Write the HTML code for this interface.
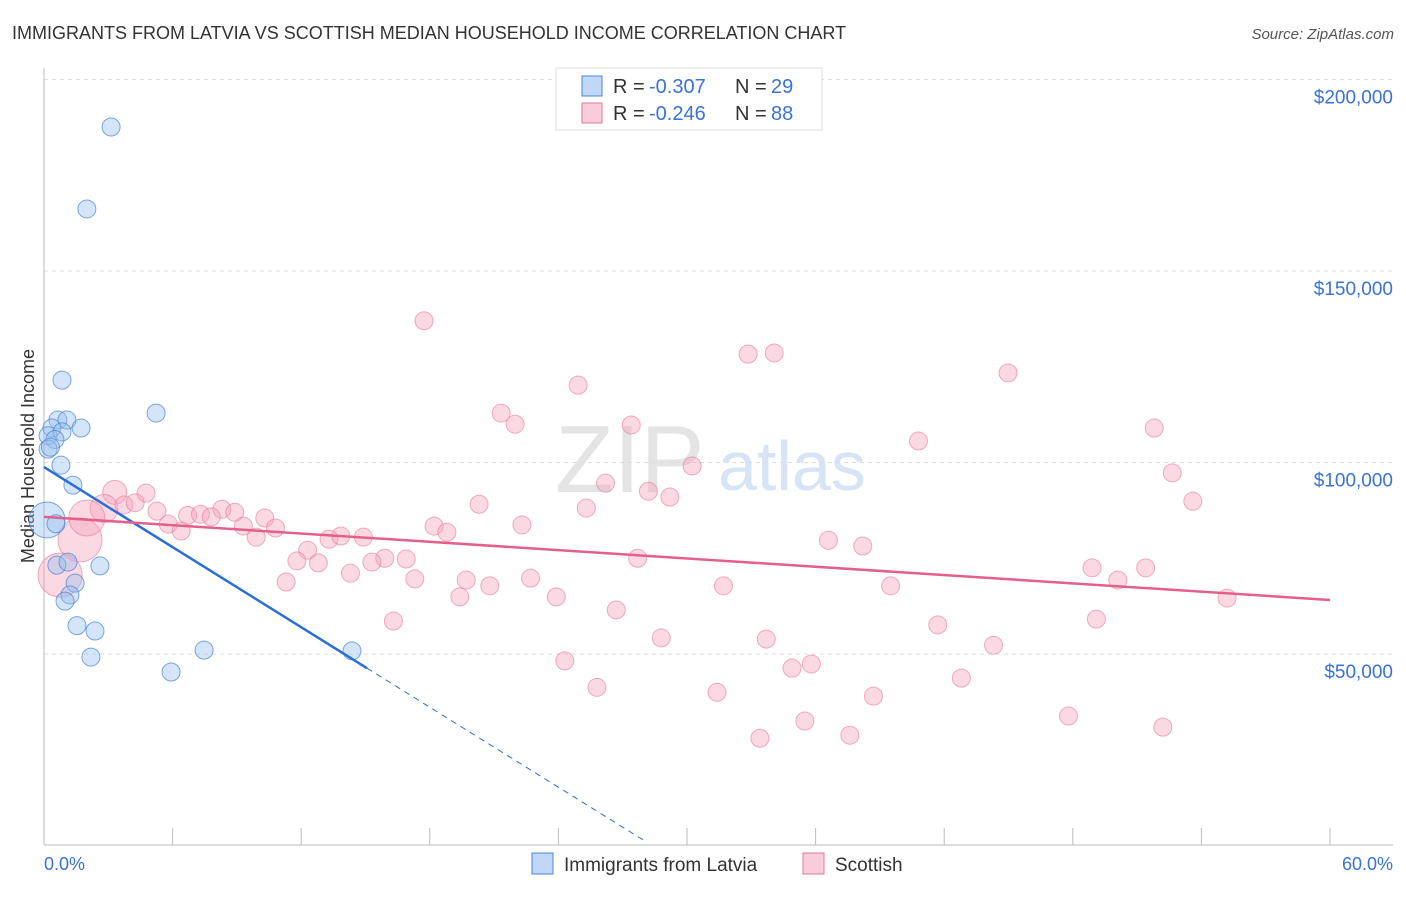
<!DOCTYPE html>
<html><head><meta charset="utf-8"><style>
body{margin:0;background:#fff;font-family:"Liberation Sans",sans-serif}
svg text{font-family:"Liberation Sans",sans-serif}
</style></head><body>
<svg id="c" width="1406" height="892"></svg>
<script>
const blueX=[3.13,2.0,0.84,5.23,0.65,1.07,0.37,0.19,1.73,0.84,0.51,0.19,0.79,1.35,0.14,0.56,0.6,1.12,2.61,1.45,1.21,0.98,1.54,2.38,2.19,7.47,14.37,5.93,0.3];
const blueY=[187.6,166.2,121.5,112.9,111.1,111.1,109,107,109,108,106,103.5,99.3,94.1,85,84,73.2,74,73,68.5,65.4,63.8,57.4,56,49.2,51,50.8,45.3,104];
const blueR=[9,9,9,9,9,9,9,9,9,9,9,9,9,9,18,9,9,9,9,9,9,9,9,9,9,9,9,9,9];
const pinkX=[17.73,32.85,34.07,44.98,24.92,21.33,21.98,27.4,51.8,40.8,30.24,52.64,26.2,28.2,29.2,53.6,3.3,4.76,20.3,25.3,2.8,3.73,4.25,5.27,8.3,8.9,6.7,7.3,7.8,10.3,5.8,6.4,9.3,10.8,18.2,18.8,22.3,9.9,13.3,13.85,14.9,36.6,38.2,12.3,15.9,16.9,11.8,12.8,15.3,27.7,48.9,51.4,14.3,22.7,19.7,17.3,11.3,20.8,31.7,39.5,50.1,19.4,23.9,55.2,26.7,16.3,49.1,41.7,28.8,33.7,44.3,24.3,35.8,34.9,42.8,25.8,31.4,38.7,47.8,35.5,52.2,37.6,33.4,1.68,0.75,2.0];
const pinkY=[137,128.3,128.6,123.4,120.2,112.9,110,109.8,109,105.6,99.1,97.3,94.6,92.5,91,89.9,92.2,92,89.1,88.1,88,88.9,89.5,87.3,87.8,87,86.2,86.5,85.8,85.5,83.9,82.1,83.4,82.9,83.4,81.8,83.7,80.5,80,80.8,80.5,79.7,78.2,77.1,75,74.8,74.3,73.8,74,75,72.5,72.5,71.1,69.8,69.3,69.6,68.8,67.8,67.8,67.8,69.3,64.9,64.9,64.6,61.5,58.6,59.1,57.6,54.2,53.9,52.3,48.2,47.4,46.3,43.7,41.3,40,39,33.8,32.5,30.9,28.8,28,79.8,70.6,85.5];
const pinkR=[9,9,9,9,9,9,9,9,9,9,9,9,9,9,9,9,12,9,9,9,14,9,9,9,9,9,9,9,9,9,9,9,9,9,9,9,9,9,9,9,9,9,9,9,9,9,9,9,9,9,9,9,9,9,9,9,9,9,9,9,9,9,9,9,9,9,9,9,9,9,9,9,9,9,9,9,9,9,9,9,9,9,9,22,22,18];
const yTicks=[50,100,150,200];
const yTickLabels=["$50,000","$100,000","$150,000","$200,000"];
const blueTrend=[[0,98.8],[15.07,46.3],[28,1.3]];
const pinkTrend=[[0,85.8],[60,64.1]];
const X=v=>44+v/60*1286, Y=v=>845.5-v*3.83;
const s=document.getElementById('c'),NS='http://www.w3.org/2000/svg';
function mk(t,a,p){const e=document.createElementNS(NS,t);for(const k in a)e.setAttribute(k,a[k]);(p||s).appendChild(e);return e;}
let e;
e=mk('text',{x:12,y:39,'font-size':18,fill:'#333'});e.textContent='IMMIGRANTS FROM LATVIA VS SCOTTISH MEDIAN HOUSEHOLD INCOME CORRELATION CHART';

e=mk('text',{x:1394,y:39,'font-size':15,fill:'#555','text-anchor':'end','font-style':'italic'});e.textContent='Source: ZipAtlas.com';

e=mk('text',{x:555,y:492,'font-size':96,fill:'#e4e4e4','font-family':'Liberation Serif'});e.textContent='ZIP';

e=mk('text',{x:718,y:490,'font-size':70,fill:'#d6e4f5'});e.textContent='atlas';

yTicks.forEach((t,i)=>{
 e=mk('line',{x1:44,x2:1393,y1:Y(t),y2:Y(t),stroke:'#ddd','stroke-dasharray':'4,4'});
 
 e=mk('text',{x:1393,y:Y(t)+24,'font-size':19,fill:'#3a72d8','text-anchor':'end'});e.textContent=yTickLabels[i];
 
});
e=mk('line',{x1:44,x2:44,y1:68,y2:845,stroke:'#bbb'});
e=mk('line',{x1:44,x2:1393,y1:845,y2:845,stroke:'#bbb'});
for(let i=1;i<=10;i++){e=mk('line',{x1:X(i*6),x2:X(i*6),y1:828,y2:845,stroke:'#bbb'});}
e=mk('text',{x:44,y:870,'font-size':18,fill:'#3a72d8'});e.textContent='0.0%';
e=mk('text',{x:1393,y:870,'font-size':18,fill:'#3a72d8','text-anchor':'end'});e.textContent='60.0%';
e=mk('text',{x:34,y:456,'font-size':18,fill:'#333','text-anchor':'middle',transform:'rotate(-90 34 456)'});e.textContent='Median Household Income';

pinkX.forEach((v,i)=>{e=mk('circle',{cx:X(v),cy:Y(pinkY[i]),r:pinkR[i],fill:'rgba(244,160,186,0.4)',stroke:'rgba(232,120,155,0.6)','stroke-width':1});
 });
blueX.forEach((v,i)=>{e=mk('circle',{cx:X(v),cy:Y(blueY[i]),r:blueR[i],fill:'rgba(150,190,240,0.4)',stroke:'rgba(70,130,210,0.7)','stroke-width':1});
 });
e=mk('line',{x1:X(blueTrend[0][0]),y1:Y(blueTrend[0][1]),x2:X(blueTrend[1][0]),y2:Y(blueTrend[1][1]),stroke:'#2a6fd6','stroke-width':2.5});

e=mk('line',{x1:X(blueTrend[1][0]),y1:Y(blueTrend[1][1]),x2:X(blueTrend[2][0]),y2:Y(blueTrend[2][1]),stroke:'#2a6fd6','stroke-width':1,'stroke-dasharray':'6,5'});

e=mk('line',{x1:X(pinkTrend[0][0]),y1:Y(pinkTrend[0][1]),x2:X(pinkTrend[1][0]),y2:Y(pinkTrend[1][1]),stroke:'#e4608a','stroke-width':2.5});

const g=mk('g',{});
mk('rect',{x:556,y:68,width:266,height:62,fill:'#fff',stroke:'#ddd'},g);
[['rgba(150,190,240,0.6)','#4a84d8','-0.307','29',86],['rgba(244,170,195,0.6)','#e07a9c','-0.246','88',113]].forEach(r=>{
 mk('rect',{x:582,y:r[4]-10,width:20,height:20,fill:r[0],stroke:r[1]},g);
 let t=mk('text',{x:613,y:r[4]+7,'font-size':20,fill:'#333'},g);t.textContent='R =';
 t=mk('text',{x:649,y:r[4]+7,'font-size':20,fill:'#3a72d8'},g);t.textContent=r[2];
 t=mk('text',{x:735,y:r[4]+7,'font-size':20,fill:'#333'},g);t.textContent='N =';
 t=mk('text',{x:771,y:r[4]+7,'font-size':20,fill:'#3a72d8'},g);t.textContent=r[3];
});
[[532,'rgba(150,190,240,0.6)','#4a84d8','Immigrants from Latvia','legend-latvia'],[803,'rgba(244,170,195,0.6)','#e07a9c','Scottish','legend-scottish']].forEach(r=>{
 const gg=mk('g',{});
 mk('rect',{x:r[0],y:853,width:21,height:21,fill:r[1],stroke:r[2]},gg);
 const t=mk('text',{x:r[0]+32,y:871,'font-size':19,fill:'#333'},gg);t.textContent=r[3];
});
</script>
</body></html>
